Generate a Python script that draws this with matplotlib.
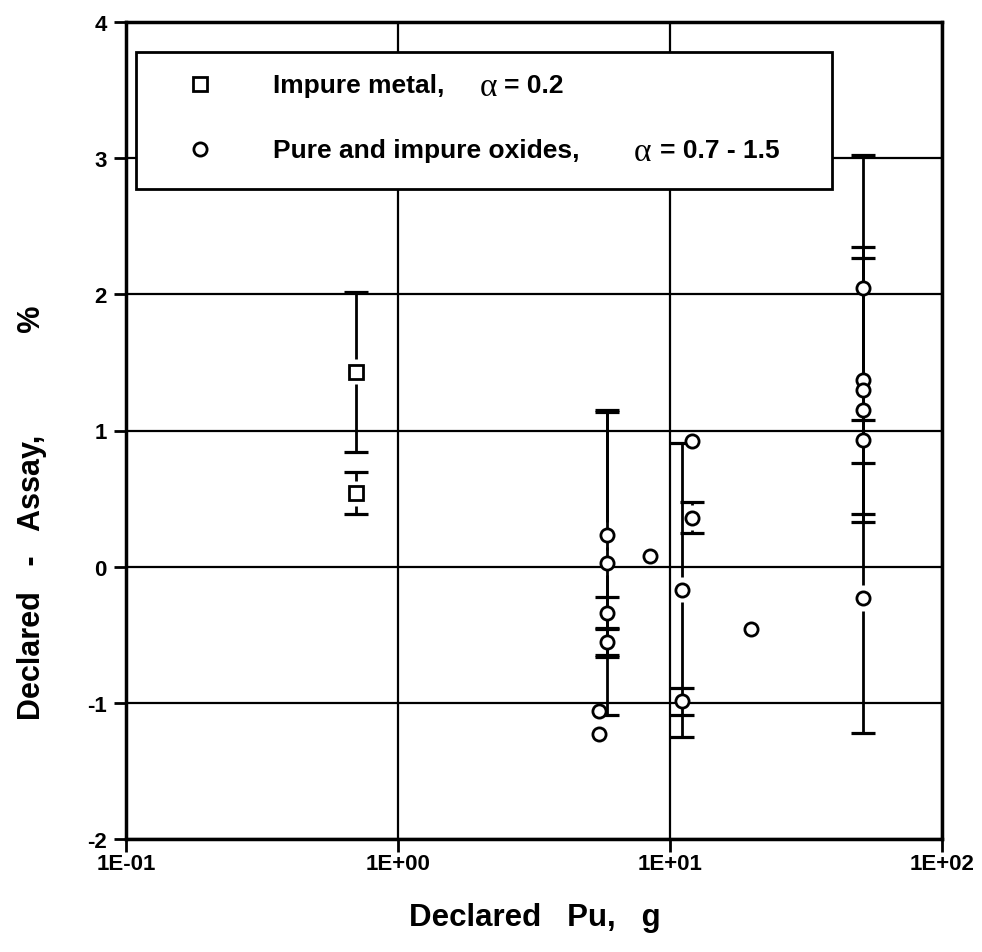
import numpy as np
import matplotlib.pyplot as plt
from matplotlib.patches import Rectangle

plt.rcParams['font.family'] = ['Liberation Sans', 'DejaVu Sans']
plt.rcParams['font.weight'] = 'bold'
plt.rcParams['axes.unicode_minus'] = False

# impure metal (squares)
metal_x = np.array([0.70, 0.70])
metal_y = np.array([1.43, 0.54])
metal_err = np.array([0.59, 0.155])

# pure and impure oxides (circles), 0 = no error bar
oxide_x = np.array([5.87, 5.87, 5.87, 5.87, 5.48, 5.48, 8.44, 11.07, 11.07,
                    12.05, 12.05, 19.9, 51.3, 51.3, 51.3, 51.3, 51.3, 51.3])
oxide_y = np.array([0.235, 0.03, -0.34, -0.55, -1.06, -1.23, 0.08, -0.17, -0.99,
                    0.36, 0.92, -0.455, 2.05, 1.37, 1.30, 1.15, 0.93, -0.23])
oxide_err = np.array([0.90, 1.12, 0.12, 0.10, 0, 0, 0, 1.08, 0.10,
                      0.115, 0, 0, 0.97, 0.98, 0.97, 0, 0, 0.99])

xticks = [0.1, 1, 10, 100]
xticklabels = ['1E-01', '1E+00', '1E+01', '1E+02']
yticks = [-2, -1, 0, 1, 2, 3, 4]

fig = plt.figure(figsize=(9.82, 9.53), dpi=100)
ax = fig.add_axes([126 / 982, 113 / 953, 816 / 982, 817 / 953])

ax.set_xscale('log')
ax.set_xlim(0.1, 100)
ax.set_ylim(-2, 4)

gap = 0.092  # error bar stops short of the marker


def draw_bars(x, y, err):
    m = err > 0
    x, y, err = x[m], y[m], err[m]
    top = np.maximum(y + gap, y + err)
    bot = np.minimum(y - gap, y - err)
    ax.vlines(x, y + gap, top, color='black', linewidth=2, zorder=1)
    ax.vlines(x, bot, y - gap, color='black', linewidth=2, zorder=1)
    ax.plot(x, y + err, '_', ms=17, mew=2.3, color='black', zorder=1)
    ax.plot(x, y - err, '_', ms=17, mew=2.3, color='black', zorder=1)


draw_bars(metal_x, metal_y, metal_err)
draw_bars(oxide_x, oxide_y, oxide_err)

ax.grid(True, which='major', color='black', linewidth=1.6, zorder=2)
ax.set_axisbelow(False)

ax.plot(metal_x, metal_y, 's', ms=10, mfc='white', mec='black', mew=2, zorder=3)
ax.plot(oxide_x, oxide_y, 'o', ms=9.5, mfc='white', mec='black', mew=2, zorder=3)

ax.set_xticks(xticks)
ax.set_xticklabels(xticklabels)
ax.set_yticks(yticks)
ax.minorticks_off()
ax.tick_params(axis='both', direction='out', length=9, width=2, labelsize=16)
ax.tick_params(axis='x', pad=1)
ax.tick_params(axis='y', pad=5)
for s in ax.spines.values():
    s.set_linewidth(2.5)

# axis titles placed in pixels of the figure
fig.text(535 / 982, 1 - 918 / 953, 'Declared   Pu,   g', fontsize=22.5,
         fontweight='bold', ha='center', va='center')
fig.text(32 / 982, 1 - 720 / 953, 'Declared   -   Assay,            %', fontsize=22,
         fontweight='bold', ha='left', va='center', rotation=90,
         rotation_mode='anchor')

# legend box drawn by hand


def fx(px):
    return (px - 126) / 816


def fy(py):
    return (840 - py) / 817


ax.add_patch(Rectangle((fx(136), fy(190)), fx(832) - fx(136), fy(53) - fy(190),
                       transform=ax.transAxes, facecolor='white', edgecolor='black',
                       linewidth=2, zorder=5, clip_on=False))
ax.plot([fx(200)], [fy(85)], 's', ms=10, mfc='white', mec='black', mew=2,
        transform=ax.transAxes, zorder=6, clip_on=False)
ax.plot([fx(200)], [fy(150)], 'o', ms=9.5, mfc='white', mec='black', mew=2,
        transform=ax.transAxes, zorder=6, clip_on=False)

tkw = dict(transform=ax.transAxes, va='center', ha='left', zorder=6, fontsize=19,
           fontweight='bold')
akw = dict(transform=ax.transAxes, va='center', ha='left', zorder=6, fontsize=24,
           family=['Liberation Serif', 'DejaVu Serif'], fontweight='normal')
ax.text(fx(273), fy(86), 'Impure metal,', **tkw)
ax.text(fx(480), fy(88), 'α', **akw)
ax.text(fx(504), fy(86), '= 0.2', **tkw)
ax.text(fx(273), fy(151), 'Pure and impure oxides,', **tkw)
ax.text(fx(634), fy(153), 'α', **akw)
ax.text(fx(660), fy(151), '= 0.7 - 1.5', **tkw)

fig.savefig('out.png', dpi=100)
